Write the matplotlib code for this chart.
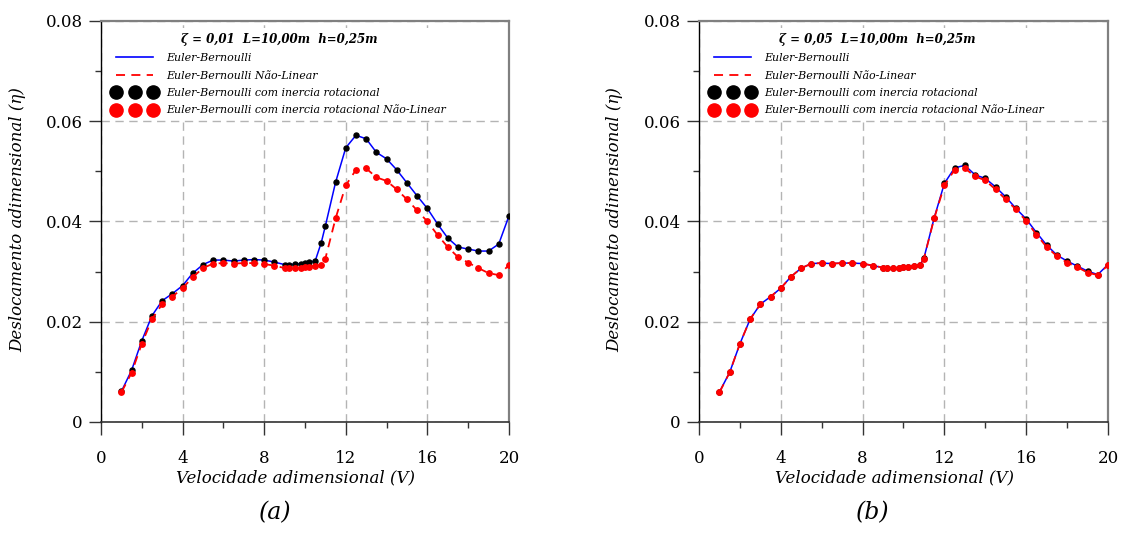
import matplotlib
matplotlib.use("Agg")
import matplotlib.pyplot as plt
from matplotlib.lines import Line2D
from matplotlib.ticker import MultipleLocator, FixedLocator

# --- Data ---

V = [1, 1.5, 2, 2.5, 3, 3.5, 4, 4.5, 5, 5.5, 6, 6.5, 7, 7.5, 8, 8.5,
     9, 9.2, 9.5, 9.8, 10, 10.2, 10.5, 10.8, 11, 11.5, 12, 12.5, 13, 13.5,
     14, 14.5, 15, 15.5, 16, 16.5, 17, 17.5, 18, 18.5, 19, 19.5, 20]

# (a) zeta = 0.01
eb_lin_a = [0.0061, 0.0103, 0.0162, 0.0212, 0.0242, 0.0256, 0.0272, 0.0297, 0.0314, 0.0323,
            0.0323, 0.0321, 0.0323, 0.0324, 0.0323, 0.0319, 0.0314, 0.0314, 0.0315, 0.0316,
            0.0317, 0.0319, 0.0321, 0.0358, 0.0391, 0.0478, 0.0547, 0.0572, 0.0565, 0.0538,
            0.0525, 0.0503, 0.0477, 0.0451, 0.0426, 0.0395, 0.0367, 0.0349, 0.0345, 0.0341,
            0.0341, 0.0355, 0.0411]
eb_nl_a = [0.0059, 0.0098, 0.0156, 0.0205, 0.0235, 0.0250, 0.0267, 0.0289, 0.0307, 0.0316,
           0.0317, 0.0316, 0.0317, 0.0317, 0.0315, 0.0312, 0.0307, 0.0307, 0.0307, 0.0308,
           0.0309, 0.0310, 0.0312, 0.0313, 0.0326, 0.0406, 0.0472, 0.0503, 0.0506, 0.0488,
           0.0481, 0.0464, 0.0444, 0.0422, 0.0400, 0.0373, 0.0349, 0.0329, 0.0318, 0.0307,
           0.0297, 0.0293, 0.0313]
ebr_lin_a = eb_lin_a   # com inercia rotacional (coincides with the blue line)
ebr_nl_a = eb_nl_a

# (b) zeta = 0.05
eb_lin_b = [0.0060, 0.0099, 0.0156, 0.0205, 0.0235, 0.0250, 0.0267, 0.0290, 0.0307, 0.0316,
            0.0317, 0.0316, 0.0317, 0.0317, 0.0316, 0.0312, 0.0308, 0.0307, 0.0307, 0.0308,
            0.0309, 0.0310, 0.0312, 0.0313, 0.0327, 0.0407, 0.0476, 0.0507, 0.0512, 0.0493,
            0.0486, 0.0469, 0.0449, 0.0426, 0.0405, 0.0378, 0.0353, 0.0333, 0.0321, 0.0311,
            0.0301, 0.0294, 0.0314]
eb_nl_b = [0.0059, 0.0099, 0.0156, 0.0205, 0.0235, 0.0250, 0.0267, 0.0290, 0.0307, 0.0316,
           0.0317, 0.0316, 0.0317, 0.0317, 0.0316, 0.0312, 0.0308, 0.0307, 0.0307, 0.0308,
           0.0309, 0.0310, 0.0312, 0.0313, 0.0326, 0.0406, 0.0472, 0.0503, 0.0506, 0.0490,
           0.0482, 0.0464, 0.0444, 0.0424, 0.0401, 0.0374, 0.0349, 0.0331, 0.0318, 0.0309,
           0.0298, 0.0293, 0.0313]
ebr_lin_b = eb_lin_b
ebr_nl_b = eb_nl_b

titles = ["\u03b6 = 0,01  L=10,00m  h=0,25m", "\u03b6 = 0,05  L=10,00m  h=0,25m"]
panel_tags = ["(a)", "(b)"]
labels = ["Euler-Bernoulli", "Euler-Bernoulli Não-Linear",
          "Euler-Bernoulli com inercia rotacional",
          "Euler-Bernoulli com inercia rotacional Não-Linear"]
x_ticks = [0, 4, 8, 12, 16, 20]
y_ticks = [0, 0.02, 0.04, 0.06, 0.08]
y_tick_labels = ["0", "0.02", "0.04", "0.06", "0.08"]

plt.rcParams['font.family'] = ['DejaVu Serif']


def draw_panel(ax, lin, nl, rlin, rnl, title):
    ax.plot(V, lin, color='#0000ff', lw=1.1, zorder=3)
    ax.plot(V, rlin, ls='none', marker='o', ms=3.6, color='black', zorder=4)
    ax.plot(V, nl, color='#ff0000', lw=1.3, ls=(0, (5, 3.5)), zorder=5)
    ax.plot(V, rnl, ls='none', marker='o', ms=3.9, color='#ff0000', zorder=6)

    ax.set_xlim(0, 20)
    ax.set_ylim(0, 0.08)
    ax.xaxis.set_major_locator(FixedLocator(x_ticks))
    ax.xaxis.set_minor_locator(MultipleLocator(2))
    ax.yaxis.set_major_locator(FixedLocator(y_ticks))
    ax.yaxis.set_minor_locator(MultipleLocator(0.01))
    ax.set_yticklabels(y_tick_labels)
    ax.tick_params(axis='both', which='major', direction='out', length=9, width=1,
                   labelsize=12, color='#333333')
    ax.tick_params(axis='both', which='minor', direction='out', length=4.5, width=1,
                   color='#333333')
    ax.tick_params(axis='x', which='major', pad=11)
    ax.tick_params(axis='y', which='major', pad=4)

    ax.grid(True, which='major', color='#b4b4b4', ls=(0, (6, 4)), lw=1)
    ax.set_axisbelow(True)

    for s in ['top', 'right']:
        ax.spines[s].set_color('#808080')
        ax.spines[s].set_linewidth(1.6)
    ax.spines['left'].set_color('black')
    ax.spines['bottom'].set_color('#333333')
    ax.spines['left'].set_linewidth(1.0)
    ax.spines['bottom'].set_linewidth(1.2)

    ax.set_xlabel('Velocidade adimensional (V)', fontsize=12, style='italic')
    ax.xaxis.set_label_coords(0.478, -0.118)
    ax.set_ylabel('Deslocamento adimensional (\u03b7)', fontsize=12, style='italic')
    ax.yaxis.set_label_coords(-0.205, 0.505)
    ax.yaxis.label.set_va('center')

    handles = [
        Line2D([], [], color='#0000ff', lw=1.2),
        Line2D([], [], color='#ff0000', lw=1.3, ls=(0, (5, 3.5))),
        Line2D([], [], ls='none', marker='o', ms=9.5, color='black'),
        Line2D([], [], ls='none', marker='o', ms=9.5, color='#ff0000'),
    ]
    leg = ax.legend(handles, labels, loc='upper left', bbox_to_anchor=(0.018, 0.982),
                    borderaxespad=0, numpoints=3, handlelength=4.0, handletextpad=0.85,
                    labelspacing=0.68, prop={'size': 7.9, 'style': 'italic'},
                    title=title, title_fontproperties={'size': 8.5, 'weight': 'bold',
                                                       'style': 'italic'},
                    frameon=True, fancybox=False, framealpha=1, facecolor='white',
                    edgecolor='none', borderpad=0.4)
    leg.set_zorder(10)


fig = plt.figure(figsize=(11.22, 5.37), dpi=100)
ax1 = fig.add_axes([0.090, 0.2142, 0.3636, 0.7467])
ax2 = fig.add_axes([0.623, 0.2142, 0.3645, 0.7467])

draw_panel(ax1, eb_lin_a, eb_nl_a, ebr_lin_a, ebr_nl_a, titles[0])
draw_panel(ax2, eb_lin_b, eb_nl_b, ebr_lin_b, ebr_nl_b, titles[1])

fig.text(275 / 1122, 1 - 513 / 537, panel_tags[0], fontsize=17, style='italic',
         ha='center', va='center')
fig.text(873 / 1122, 1 - 513 / 537, panel_tags[1], fontsize=17, style='italic',
         ha='center', va='center')

fig.savefig('out.png', dpi=100)
